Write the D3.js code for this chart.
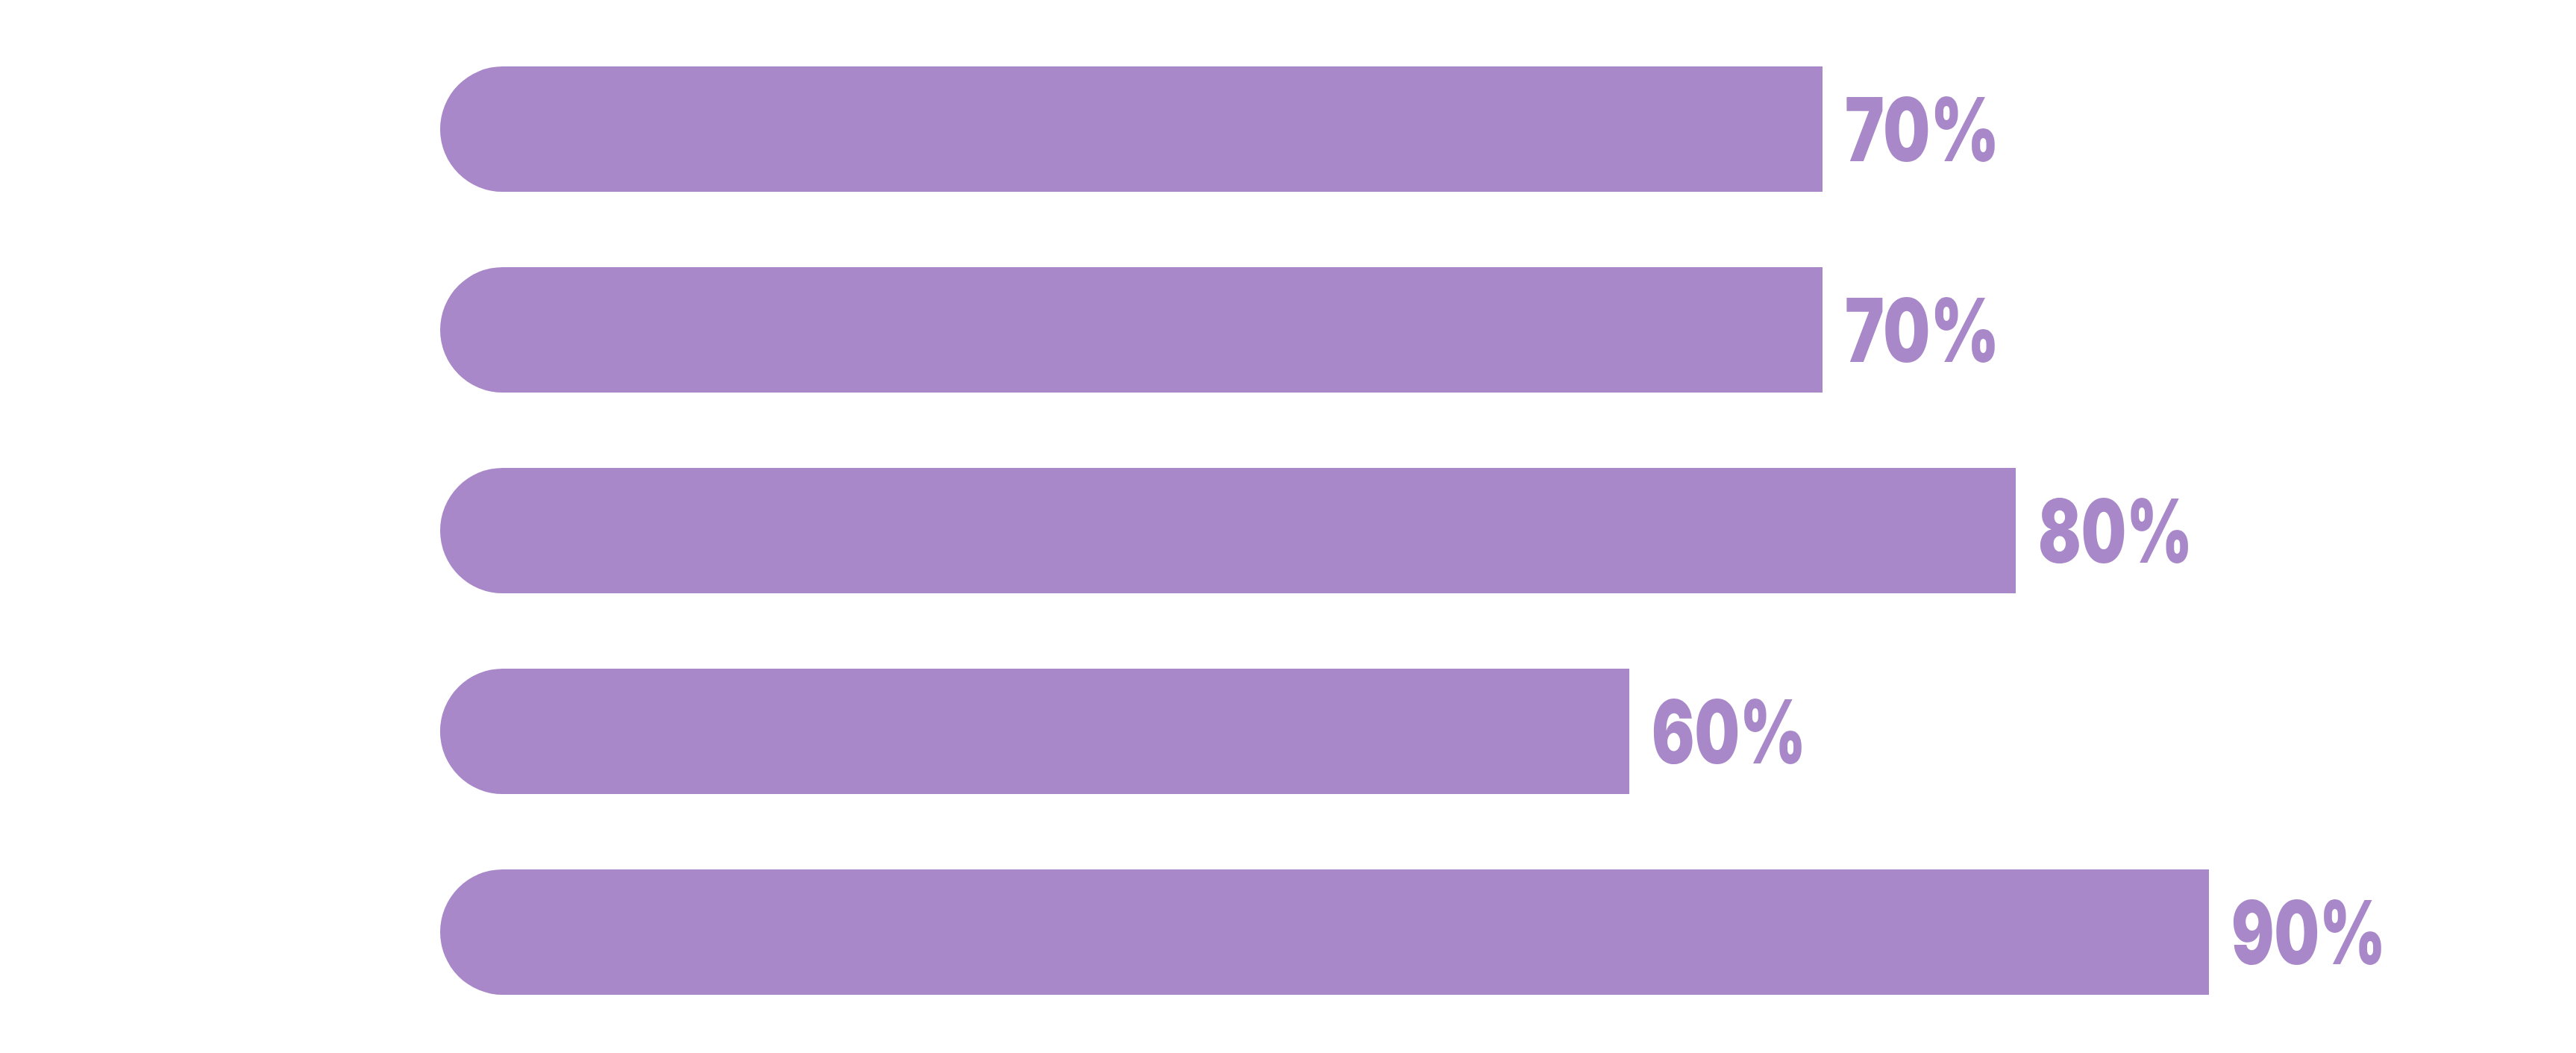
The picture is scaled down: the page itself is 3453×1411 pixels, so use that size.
<!DOCTYPE html>
<html>
<head>
<meta charset="utf-8">
<script src="https://cdn.jsdelivr.net/npm/d3@7"></script>
<style>
  html, body { margin: 0; padding: 0; background: #ffffff; }
  svg { display: block; }
</style>
</head>
<body>
<svg id="chart" width="3453" height="1411"></svg>
<script>
// ---- data ----
const categories = ["Item 1", "Item 2", "Item 3", "Item 4", "Item 5"];
const values = [70, 70, 80, 60, 90];
const valueLabels = ["70%", "70%", "80%", "60%", "90%"];

// ---- layout ----
const W = 3453, H = 1411;
const barColor = "#a888c8";
const svg = d3.select("#chart");
svg.append("rect").attr("width", W).attr("height", H).attr("fill", "#ffffff");

const x = d3.scaleLinear().domain([0, 100]).range([630, 3220]);
const y = d3.scaleBand().domain(categories).range([89, 1333]).paddingInner(0.375).paddingOuter(0);

const bw = y.bandwidth();
const r = bw / 2;
const leftX = 590;

const data = categories.map((c, i) => ({ c, v: values[i], label: valueLabels[i] }));

function barPath(d) {
  const top = y(d.c), bot = top + bw, right = x(d.v);
  const p = d3.path();
  p.moveTo(right, top);
  p.lineTo(leftX + r, top);
  p.arc(leftX + r, top + r, r, -Math.PI / 2, Math.PI / 2, true);
  p.lineTo(right, bot);
  p.closePath();
  return p.toString();
}

svg.append("g").selectAll("path")
  .data(data).join("path")
  .attr("d", barPath)
  .attr("fill", barColor);

svg.append("g").selectAll("text")
  .data(data).join("text")
  .attr("x", d => x(d.v) + 30)
  .attr("y", d => y(d.c) + bw / 2 + 43)
  .attr("font-family", "Inter, 'Liberation Sans', Arial, sans-serif")
  .attr("font-weight", 900)
  .attr("font-size", 118)
  .attr("textLength", 207)
  .attr("lengthAdjust", "spacingAndGlyphs")
  .attr("fill", barColor)
  .text(d => d.label);
</script>
</body>
</html>
